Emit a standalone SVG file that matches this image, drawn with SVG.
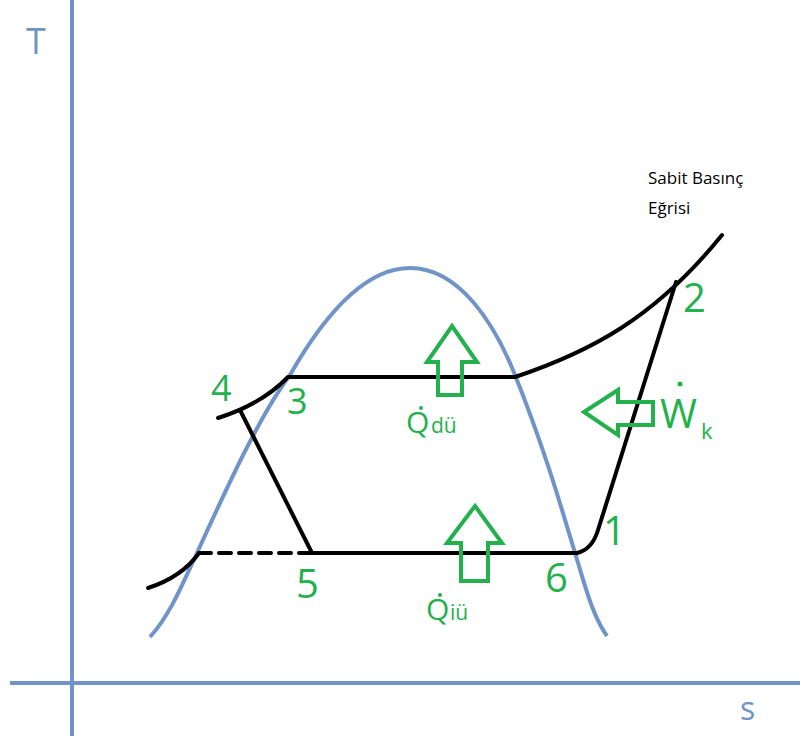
<svg xmlns="http://www.w3.org/2000/svg" width="800" height="740" viewBox="0 0 800 740">
<style>
.ax{stroke:#7094c8;stroke-width:4;fill:none}
.bk{stroke:#000;stroke-width:4;fill:none;stroke-linecap:round;stroke-linejoin:round}
.ar{stroke:#22b14c;stroke-width:4;fill:none;stroke-linejoin:miter}
.lb{fill:#22b14c;font-family:'Open Sans','Liberation Sans',sans-serif}
.ax-t{fill:#7094c8;font-family:'Open Sans','Liberation Sans',sans-serif}
</style>
<rect width="800" height="740" fill="#fff"/>
<g id="axes">
<line class="ax" x1="72" y1="0" x2="72" y2="736"/>
<line class="ax" x1="10" y1="683" x2="800" y2="683"/>
<text class="ax-t" x="26" y="54" font-size="36">T</text>
<text class="ax-t" x="740" y="720" font-size="32">s</text>
</g>
<g id="dome">
<path class="ax" d="M150,637 C170,615 182,585 197,553 C228,485 260,415 290,375 C330,305 370,268 410,268 C460,268 495,325 515,375 C545,450 562,510 575,553 C585,585 592,615 607,636"/>
</g>
<g id="connectors">
<path class="bk" d="M218,418 Q262,404 288,377 L515,377"/>
<path class="bk" d="M515,377 C590,352 655,318 722,235"/>
<path class="bk" d="M240,410 L312,553 L577,553"/>
<path class="bk" d="M577,553 C590,550 595,540 598,530 L676,282"/>
<path class="bk" d="M148,588 Q182,577 199,553"/>
<path class="bk" d="M199,553 L312,553" stroke-dasharray="12 8" stroke-linecap="butt"/>
</g>
<g id="arrow-qdu">
<path class="ar" d="M452,326 L477,362 L462,362 L462,395 L438,395 L438,362 L427,362 Z"/>
<text class="lb" x="406" y="433" font-size="30">Q</text>
<circle cx="421" cy="408" r="2" fill="#22b14c"/>
<text class="lb" x="431" y="433" font-size="21">dü</text>
</g>
<g id="arrow-qiu">
<path class="ar" d="M475,506 L502,543 L488,543 L488,581 L461,581 L461,543 L447,543 Z"/>
<text class="lb" x="426" y="620" font-size="30">Q</text>
<circle cx="440" cy="595" r="2" fill="#22b14c"/>
<text class="lb" x="450" y="620" font-size="21">iü</text>
</g>
<g id="arrow-wk">
<path class="ar" d="M584,412 L618,390 L618,402 L653,402 L653,425 L618,425 L618,435 Z"/>
<text class="lb" x="660" y="428" font-size="40">W</text>
<circle cx="680" cy="384" r="2.5" fill="#22b14c"/>
<text class="lb" x="701" y="439" font-size="22">k</text>
</g>
<g id="points">
<text class="lb" x="211" y="401" font-size="36">4</text>
<text class="lb" x="287" y="414" font-size="36">3</text>
<text class="lb" x="296" y="598" font-size="40">5</text>
<text class="lb" x="545" y="592" font-size="40">6</text>
<text class="lb" x="603" y="545" font-size="40">1</text>
<text class="lb" x="683" y="312" font-size="40">2</text>
</g>
<g id="label-sabit">
<text x="648" y="184" font-size="17" font-family="'Open Sans','Liberation Sans',sans-serif">Sabit Basınç</text>
<text x="648" y="214" font-size="17" font-family="'Open Sans','Liberation Sans',sans-serif">Eğrisi</text>
</g>
</svg>
